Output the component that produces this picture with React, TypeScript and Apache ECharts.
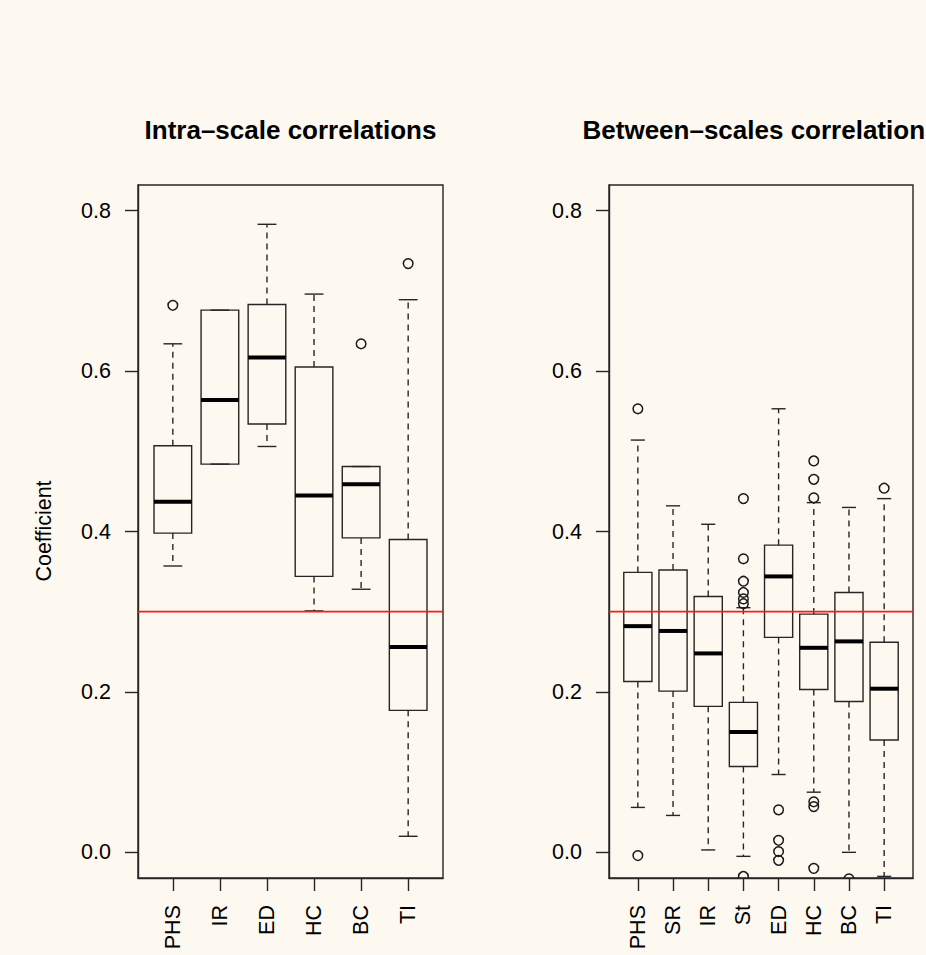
import React, { useEffect, useRef } from "react";
import * as echarts from "echarts";

// ---------- data ----------
const leftCategories = ["PHS", "IR", "ED", "HC", "BC", "TI"];
const leftLowerWhisker = [0.357, 0.484, 0.506, 0.301, 0.328, 0.02];
const leftQ1 = [0.398, 0.484, 0.534, 0.344, 0.392, 0.177];
const leftMedian = [0.437, 0.564, 0.617, 0.445, 0.459, 0.256];
const leftQ3 = [0.507, 0.676, 0.683, 0.605, 0.481, 0.39];
const leftUpperWhisker = [0.634, 0.676, 0.783, 0.696, 0.481, 0.689];
const leftOutlierCats = ["PHS", "BC", "TI"];
const leftOutlierValues = [0.682, 0.634, 0.734];

const rightCategories = ["PHS", "SR", "IR", "St", "ED", "HC", "BC", "TI"];
const rightLowerWhisker = [0.056, 0.046, 0.003, -0.005, 0.097, 0.075, 0.0, -0.03];
const rightQ1 = [0.213, 0.201, 0.182, 0.107, 0.268, 0.203, 0.188, 0.14];
const rightMedian = [0.282, 0.276, 0.248, 0.15, 0.344, 0.255, 0.263, 0.204];
const rightQ3 = [0.349, 0.352, 0.319, 0.187, 0.383, 0.297, 0.324, 0.262];
const rightUpperWhisker = [0.514, 0.432, 0.409, 0.305, 0.553, 0.436, 0.43, 0.441];
const rightOutlierCats = [
  "PHS", "PHS",
  "St", "St", "St", "St", "St", "St", "St",
  "ED", "ED", "ED", "ED",
  "HC", "HC", "HC", "HC", "HC", "HC",
  "BC",
  "TI",
];
const rightOutlierValues = [
  0.553, -0.004,
  0.441, 0.366, 0.338, 0.324, 0.316, 0.31, -0.03,
  0.053, 0.015, 0.001, -0.01,
  0.488, 0.465, 0.442, 0.063, 0.057, -0.02,
  -0.033,
  0.454,
];

const yTicks = [0, 0.2, 0.4, 0.6, 0.8];
const yMin = -0.032;
const yMax = 0.832;
const threshold = 0.3;

const titles = ["Intra\u2013scale correlations", "Between\u2013scales correlations"];
const yAxisTitle = "Coefficient";

// ---------- style ----------
const FONT = "'Liberation Sans', Arial, Helvetica, sans-serif";
const BG = "#fdf9f1";
const INK = "#262626";
const BOX_HALF = 0.4;
const CAP_HALF = 0.2;

function boxData(lo: number[], q1: number[], med: number[], q3: number[], hi: number[]) {
  return lo.map((v, i) => [i + 1, v, q1[i], med[i], q3[i], hi[i]]);
}
function outlierData(cats: string[], allCats: string[], vals: number[]) {
  return vals.map((v, i) => [allCats.indexOf(cats[i]) + 1, v]);
}

const renderBox = (_params: any, api: any) => {
  const x = api.value(0);
  const lo = api.value(1);
  const q1 = api.value(2);
  const med = api.value(3);
  const q3 = api.value(4);
  const hi = api.value(5);
  const tl = api.coord([x - BOX_HALF, q3]);
  const br = api.coord([x + BOX_HALF, q1]);
  const c = api.coord([x, med]);
  const pLo = api.coord([x, lo]);
  const pHi = api.coord([x, hi]);
  const pQ1 = api.coord([x, q1]);
  const pQ3 = api.coord([x, q3]);
  const capL = api.coord([x - CAP_HALF, lo])[0];
  const capR = api.coord([x + CAP_HALF, lo])[0];
  const dash = { stroke: INK, lineWidth: 1.4, lineDash: [6, 5] };
  const solid = { stroke: INK, lineWidth: 1.4 };
  return {
    type: "group",
    children: [
      { type: "line", shape: { x1: pQ3[0], y1: pQ3[1], x2: pHi[0], y2: pHi[1] }, style: dash },
      { type: "line", shape: { x1: pQ1[0], y1: pQ1[1], x2: pLo[0], y2: pLo[1] }, style: dash },
      { type: "line", shape: { x1: capL, y1: pHi[1], x2: capR, y2: pHi[1] }, style: solid },
      { type: "line", shape: { x1: capL, y1: pLo[1], x2: capR, y2: pLo[1] }, style: solid },
      {
        type: "rect",
        shape: { x: tl[0], y: tl[1], width: br[0] - tl[0], height: br[1] - tl[1] },
        style: { fill: "none", stroke: INK, lineWidth: 1.4 },
      },
      {
        type: "line",
        shape: { x1: tl[0], y1: c[1], x2: br[0], y2: c[1] },
        style: { stroke: "#000", lineWidth: 4, lineCap: "butt" },
      },
    ],
  };
};

const renderOutlier = (_params: any, api: any) => {
  const p = api.coord([api.value(0), api.value(1)]);
  return {
    type: "circle",
    shape: { cx: p[0], cy: p[1], r: 4.8 },
    style: { fill: "none", stroke: "#1a1a1a", lineWidth: 1.5 },
  };
};

function makeXAxis(gridIndex: number, cats: string[]) {
  const n = cats.length;
  const ext = 0.04 * n;
  const ticks = cats.map((_, i) => i + 1);
  return {
    gridIndex,
    type: "value",
    min: 0.5 - ext,
    max: n + 0.5 + ext,
    axisLine: { show: true, onZero: false, lineStyle: { color: INK, width: 1.4 } },
    splitLine: { show: false },
    axisTick: { show: true, customValues: ticks, length: 13, lineStyle: { color: INK, width: 1.4 } },
    axisLabel: {
      customValues: ticks,
      formatter: (v: number) => cats[Math.round(v) - 1] ?? "",
      rotate: 90,
      margin: 27,
      fontSize: 21.5,
      color: "#000",
      fontFamily: FONT,
    },
  };
}

function makeYAxis(gridIndex: number) {
  return {
    gridIndex,
    type: "value",
    min: yMin,
    max: yMax,
    axisLine: { show: true, onZero: false, lineStyle: { color: INK, width: 1.4 } },
    splitLine: { show: false },
    axisTick: { show: true, customValues: yTicks, length: 13, lineStyle: { color: INK, width: 1.4 } },
    axisLabel: {
      customValues: yTicks,
      formatter: (v: number) => v.toFixed(1),
      margin: 27,
      fontSize: 21.5,
      color: "#000",
      fontFamily: FONT,
    },
  };
}

function panelSeries(idx: number, cats: string[], boxes: number[][], outliers: number[][]) {
  const n = cats.length;
  const ext = 0.04 * n;
  return [
    {
      type: "custom",
      xAxisIndex: idx,
      yAxisIndex: idx,
      renderItem: renderBox,
      data: boxes,
      encode: { x: 0, y: [1, 2, 3, 4, 5] },
      clip: true,
      silent: true,
    },
    {
      type: "custom",
      xAxisIndex: idx,
      yAxisIndex: idx,
      renderItem: renderOutlier,
      data: outliers,
      encode: { x: 0, y: 1 },
      clip: true,
      silent: true,
    },
    {
      type: "line",
      xAxisIndex: idx,
      yAxisIndex: idx,
      data: [
        [0.5 - ext, threshold],
        [n + 0.5 + ext, threshold],
      ],
      symbol: "none",
      lineStyle: { color: "#ff1a1a", width: 1.7 },
      silent: true,
    },
  ];
}

export default function App() {
  const ref = useRef<HTMLDivElement>(null);
  useEffect(() => {
    if (!ref.current) return;
    const chart = echarts.init(ref.current, undefined, { renderer: "svg" });
    const leftBoxes = boxData(leftLowerWhisker, leftQ1, leftMedian, leftQ3, leftUpperWhisker);
    const rightBoxes = boxData(rightLowerWhisker, rightQ1, rightMedian, rightQ3, rightUpperWhisker);
    const leftOut = outlierData(leftOutlierCats, leftCategories, leftOutlierValues);
    const rightOut = outlierData(rightOutlierCats, rightCategories, rightOutlierValues);
    const gridStyle = { show: true, borderColor: INK, borderWidth: 1.4, backgroundColor: "transparent" };
    const option: any = {
      animation: false,
      backgroundColor: BG,
      grid: [
        { left: 138, top: 185, width: 305, height: 693, ...gridStyle },
        { left: 609, top: 185, width: 304, height: 693, ...gridStyle },
      ],
      xAxis: [makeXAxis(0, leftCategories), makeXAxis(1, rightCategories)],
      yAxis: [makeYAxis(0), makeYAxis(1)],
      graphic: [
        {
          type: "text",
          x: 290.5,
          y: 130,
          style: {
            text: titles[0],
            fill: "#000",
            font: `bold 26px ${FONT}`,
            align: "center",
            verticalAlign: "middle",
            textAlign: "center",
            textVerticalAlign: "middle",
          },
        },
        {
          type: "text",
          x: 761,
          y: 130,
          style: {
            text: titles[1],
            fill: "#000",
            font: `bold 26px ${FONT}`,
            align: "center",
            verticalAlign: "middle",
            textAlign: "center",
            textVerticalAlign: "middle",
          },
        },
        {
          type: "text",
          x: 44,
          y: 531,
          rotation: Math.PI / 2,
          style: {
            text: yAxisTitle,
            fill: "#000",
            font: `21.5px ${FONT}`,
            align: "center",
            verticalAlign: "middle",
            textAlign: "center",
            textVerticalAlign: "middle",
          },
        },
      ],
      series: [
        ...panelSeries(0, leftCategories, leftBoxes, leftOut),
        ...panelSeries(1, rightCategories, rightBoxes, rightOut),
      ],
    };
    chart.setOption(option);
    return () => chart.dispose();
  }, []);
  return (
    <div
      ref={ref}
      style={{ position: "absolute", left: 0, top: 0, width: 926, height: 955 }}
    />
  );
}
